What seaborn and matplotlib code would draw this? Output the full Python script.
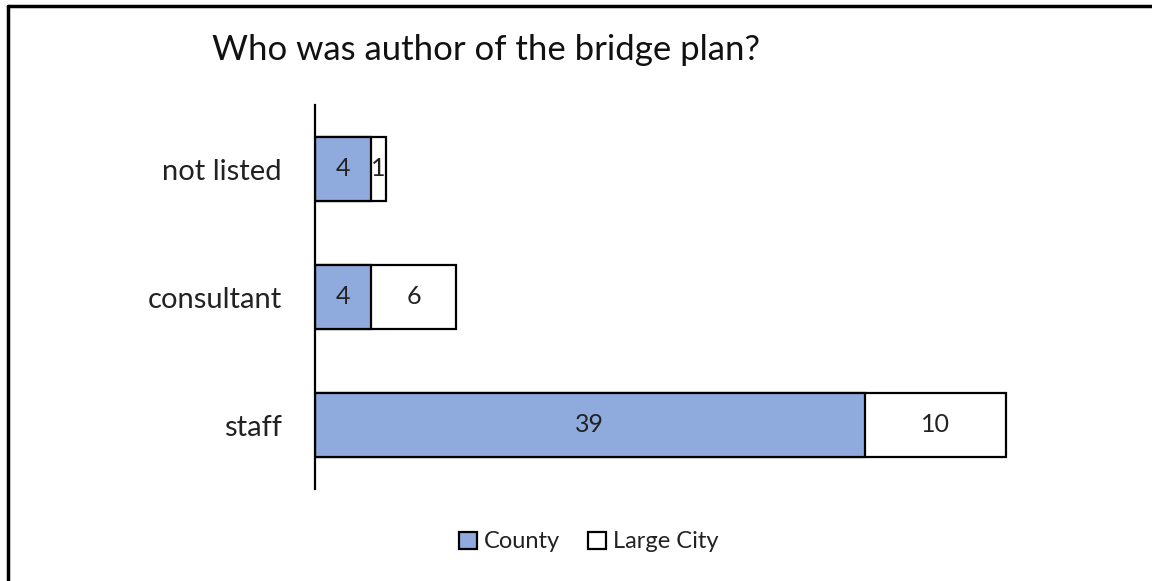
import matplotlib
matplotlib.use("Agg")
import matplotlib.pyplot as plt
from matplotlib.patches import Patch
from matplotlib.lines import Line2D
import seaborn as sns
import pandas as pd

categories = ["not listed", "consultant", "staff"]
county = [4, 4, 39]
large_city = [1, 6, 10]
series_names = ["County", "Large City"]

BLUE = "#8FAADC"
sns.set_theme(style="white")
plt.rcParams["font.family"] = ["Lato", "DejaVu Sans"]

W, H = 1152, 581
fig = plt.figure(figsize=(W / 100, H / 100), dpi=100)
ax = fig.add_axes([315 / W, 1 - 489 / H, (1020 - 315) / W, (489 - 105) / H])

df = pd.DataFrame({"category": categories, "county": county, "large_city": large_city})
df["total"] = df["county"] + df["large_city"]

sns.barplot(data=df, y="category", x="total", orient="h", color="white",
            edgecolor="black", linewidth=1.6, width=0.5, ax=ax, saturation=1)
sns.barplot(data=df, y="category", x="county", orient="h", color=BLUE,
            edgecolor="black", linewidth=1.6, width=0.5, ax=ax, saturation=1)

for i, (c, l) in enumerate(zip(county, large_city)):
    ax.text(c / 2, i, str(c), ha="center", va="center", fontsize=18, color="#222222")
    ax.text(c + l / 2, i, str(l), ha="center", va="center", fontsize=18, color="#222222")

ax.set_xlim(0, 50)
ax.set_ylim(2.5, -0.5)
ax.set_xlabel("")
ax.set_ylabel("")
ax.set_xticks([])
for s in ["top", "right", "bottom"]:
    ax.spines[s].set_visible(False)
ax.spines["left"].set_color("black")
ax.spines["left"].set_linewidth(1.6)
ax.tick_params(axis="y", length=0, pad=24, labelsize=21, labelcolor="#222222")

fig.text(212 / W, 1 - 50 / H, "Who was author of the bridge plan?", ha="left",
         va="center", fontsize=25, color="#111111")

handles = [Patch(facecolor=BLUE, edgecolor="black", linewidth=1.6),
           Patch(facecolor="white", edgecolor="black", linewidth=1.6)]
fig.legend(handles, series_names, loc="center", bbox_to_anchor=(589 / W, 1 - 542 / H),
           ncol=2, frameon=False, fontsize=17, handlelength=0.75, handleheight=0.75,
           handletextpad=0.3, columnspacing=1.2, labelcolor="#222222")

# outer frame (top and left edges)
fig.add_artist(Line2D([7.5 / W, 1], [1 - 5.5 / H, 1 - 5.5 / H], transform=fig.transFigure,
                      color="black", linewidth=2.5))
fig.add_artist(Line2D([7.5 / W, 7.5 / W], [0, 1 - 5.5 / H], transform=fig.transFigure,
                      color="black", linewidth=2.5))

fig.savefig("out.png", dpi=100, facecolor="white")
